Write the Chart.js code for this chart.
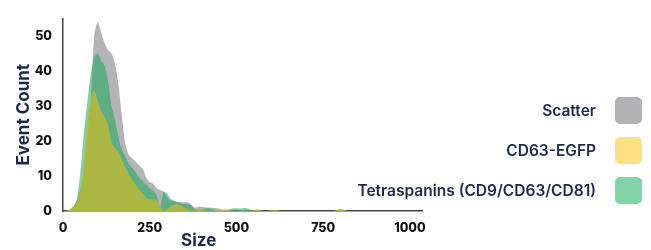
<!DOCTYPE html>
<html>
<head>
<meta charset="utf-8">
<script src="https://cdn.jsdelivr.net/npm/chart.js@4"></script>
<style>
  html, body { margin: 0; padding: 0; background: #fff; overflow: hidden; }
  #wrap { position: relative; width: 651px; height: 250px; font-family: Inter, 'Noto Sans', sans-serif; }
  #wrap canvas { position: absolute; left: 0; top: 0; }
  .xtitle { position: absolute; left: 181px; top: 231px; font-size: 17px; line-height: 18px; font-weight: 700; color: #1b2a4c; }
  .legend { position: absolute; right: 9px; top: 97px; }
  .legend .row { display: flex; align-items: center; justify-content: flex-end; height: 27px; margin-bottom: 13px; }
  .legend .row span { font-size: 15.5px; font-weight: 600; color: #1b2a4c; margin-right: 19px; }
  .legend .row i { display: block; width: 27px; height: 27px; border-radius: 5px; }
</style>
</head>
<body>
<div id="wrap">
  <canvas id="histChart" width="651" height="250"></canvas>
  <div class="xtitle">Size</div>
  <div class="legend" id="legend"></div>
</div>
<script>
// size bins (10 units wide)
const sizes = [
  0, 10, 20, 30, 40, 50, 60, 70, 80, 90,
  100, 110, 120, 130, 140, 150, 160, 170, 180, 190,
  200, 210, 220, 230, 240, 250, 260, 270, 280, 290,
  300, 310, 320, 330, 340, 350, 360, 370, 380, 390,
  400, 410, 420, 430, 440, 450, 460, 470, 480, 490,
  500, 510, 520, 530, 540, 550, 560, 570, 580, 590,
  600, 610, 620, 630, 640, 650, 660, 670, 680, 690,
  700, 710, 720, 730, 740, 750, 760, 770, 780, 790,
  800, 810, 820, 830, 840, 850, 860, 870, 880, 890,
  900, 910, 920, 930, 940, 950, 960, 970, 980, 990,
  1000
];

const scatterCounts = [
  0, 0, 0.3, 1, 3, 6, 10, 19, 31, 50,
  54, 51, 48, 46, 45, 42, 36, 27, 19, 16,
  15, 14, 13, 12, 9.5, 8.3, 7.8, 6.5, 6, 5.5,
  4, 3, 2.8, 2.6, 2.5, 2.5, 2.5, 1.8, 1, 1.2,
  1.2, 1, 1, 0.9, 0.8, 0.7, 0.3, 0.2, 0.2, 0.1,
  0.1, 0.2, 0.3, 0.2, 0.1, 0, 0, 0, 0, 0,
  0, 0, 0, 0, 0, 0, 0, 0, 0, 0,
  0, 0, 0, 0, 0, 0, 0, 0, 0, 0.1,
  0.2, 0.1, 0, 0, 0, 0, 0, 0, 0, 0,
  0, 0, 0, 0, 0, 0, 0, 0, 0, 0,
  0
];

const cd63Counts = [
  0, 0, 0.5, 1.5, 2.5, 6, 14, 25, 32, 34.5,
  31.5, 28.5, 27, 24.5, 19.5, 18, 17, 14.5, 12.5, 10.5,
  8.8, 7.5, 6, 5, 3.8, 3.3, 3.3, 3.2, 1.2, 0,
  0.5, 1.2, 1.8, 2, 1.5, 1, 0.5, 0.1, 0.1, 0.5,
  0.3, 0.1, 0, 0, 0.1, 0.2, 0.4, 0.4, 0.2, 0,
  0, 0, 0, 0, 0, 0.2, 0.4, 0.2, 0, 0,
  0.2, 0.3, 0.2, 0, 0, 0, 0, 0, 0, 0,
  0, 0, 0, 0, 0, 0, 0, 0, 0, 0.3,
  0.6, 0.3, 0, 0, 0, 0, 0, 0, 0, 0,
  0, 0, 0, 0, 0, 0, 0, 0, 0, 0,
  0
];

const tetraCounts = [
  0, 0, 0.3, 1.2, 3.5, 11, 22, 31, 39, 44,
  45, 43, 41.5, 37, 30, 26, 21, 17.5, 15.5, 13.5,
  12.3, 11, 9.5, 8.5, 7.5, 6.5, 5.8, 4.5, 1, 5.5,
  5, 3.5, 3, 2.5, 2.2, 2, 1.9, 1.5, 0.5, 0.3,
  0.4, 0.7, 0.8, 0.5, 0.2, 0.1, 0, 0.1, 0.5, 0.8,
  0.8, 0.7, 0.8, 0.8, 0.3, 0.1, 0, 0, 0, 0,
  0.1, 0.2, 0.1, 0, 0, 0, 0, 0, 0, 0,
  0, 0, 0, 0, 0, 0, 0, 0, 0, 0.3,
  0.5, 0.3, 0, 0, 0, 0, 0, 0, 0, 0,
  0, 0, 0, 0, 0, 0, 0, 0, 0, 0,
  0
];

const xTicks = [0, 250, 500, 750, 1000];
const yTicks = [0, 10, 20, 30, 40, 50];

const seriesNames = ['Scatter', 'CD63-EGFP', 'Tetraspanins (CD9/CD63/CD81)'];
const legendColors = ['#b3b3b5', '#ffe083', '#82d4a8'];

const navy = '#1b2a4c';
const tickFont = { family: "Inter, 'Noto Sans', sans-serif", size: 12.5, weight: '800' };

function pts(counts) {
  return sizes.map((s, i) => ({ x: s, y: counts[i] }));
}

function area(label, counts, color, order) {
  return {
    label: label,
    data: pts(counts),
    backgroundColor: color,
    borderWidth: 0,
    pointRadius: 0,
    tension: 0.25,
    fill: 'origin',
    order: order,
  };
}

new Chart(document.getElementById('histChart'), {
  type: 'line',
  data: {
    datasets: [
      area(seriesNames[0], scatterCounts, '#b4b4b6', 3),
      area(seriesNames[1], cd63Counts, 'rgba(188,184,52,0.82)', 1),
      area(seriesNames[2], tetraCounts, 'rgba(15,169,86,0.53)', 2),
    ]
  },
  options: {
    responsive: false,
    animation: false,
    layout: { padding: { left: 14, right: 229, top: 13, bottom: 4 } },
    plugins: {
      legend: { display: false },
      tooltip: { enabled: false },
    },
    scales: {
      x: {
        type: 'linear',
        min: 0,
        max: 1035,
        afterBuildTicks: axis => { axis.ticks = xTicks.map(v => ({ value: v })); },
        ticks: { color: '#111', font: tickFont, padding: 10, maxRotation: 0, callback: v => String(v) },
        grid: { display: false, drawTicks: false },
        border: { color: '#444', width: 1.5 },
      },
      y: {
        min: 0,
        max: 55,
        afterBuildTicks: axis => { axis.ticks = yTicks.map(v => ({ value: v })); },
        afterFit: axis => { axis.width = 49; },
        ticks: { color: '#111', font: tickFont, padding: 11 },
        title: {
          display: true,
          text: 'Event Count',
          color: navy,
          font: { family: "Inter, 'Noto Sans', sans-serif", size: 17, weight: '700' },
          padding: { top: 0, bottom: 2 },
        },
        grid: { display: false, drawTicks: false },
        border: { color: '#444', width: 1.5 },
      }
    }
  }
});

// legend on the right
const legendEl = document.getElementById('legend');
seriesNames.forEach((name, i) => {
  const row = document.createElement('div');
  row.className = 'row';
  row.innerHTML = '<span>' + name + '</span><i style="background:' + legendColors[i] + '"></i>';
  legendEl.appendChild(row);
});
</script>
</body>
</html>
